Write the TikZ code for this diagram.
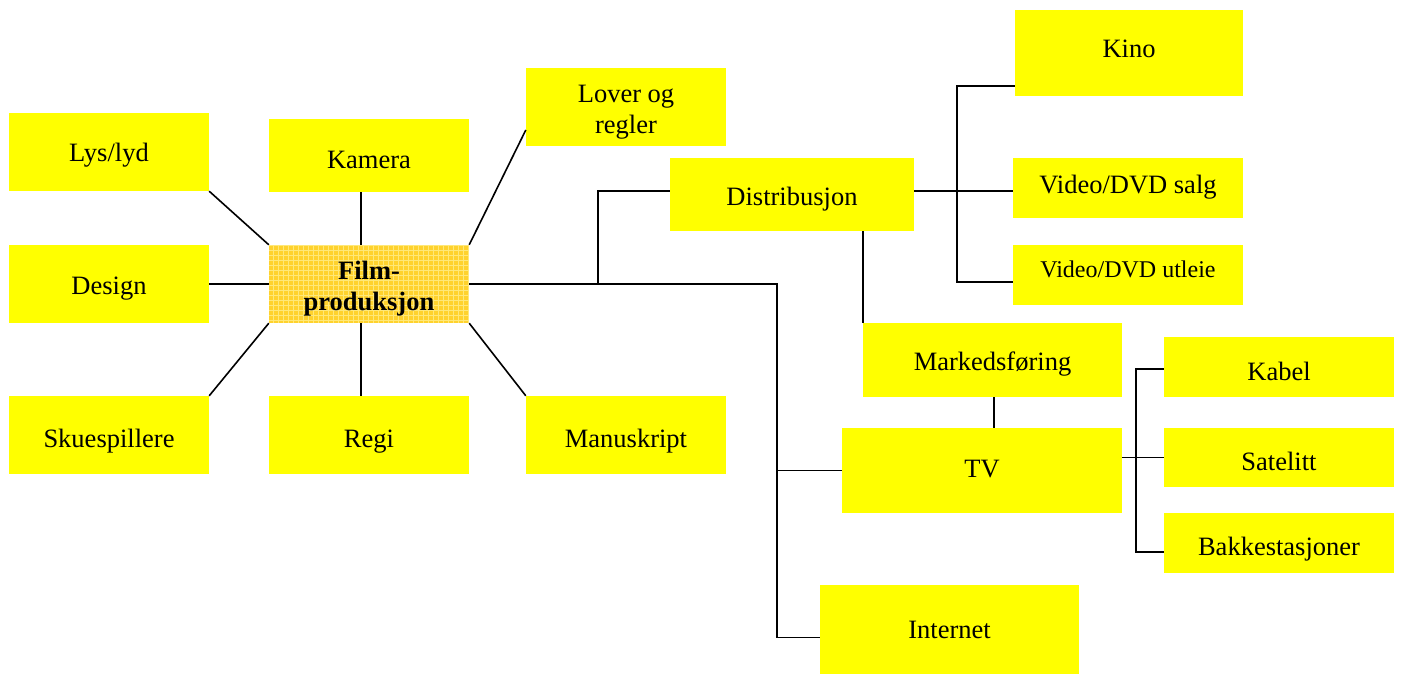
\documentclass[tikz,border=0pt]{standalone}
\usepackage{fontspec}
\setmainfont{Liberation Serif}
\usetikzlibrary{calc}
\definecolor{boxyellow}{RGB}{255,255,0}
\definecolor{centerfill}{RGB}{255,210,45}
\definecolor{centergrid}{RGB}{255,232,120}
\begin{document}
\begin{tikzpicture}[x=1pt,y=-1pt,
  box/.style={fill=boxyellow, draw=none, inner sep=0pt, align=center,
    font=\fontsize{26.5}{31}\selectfont},
  bl/.style={text depth=6pt, text height={6pt+2*#1pt}},
  centerbox/.style={box, fill=centerfill,
    font=\fontsize{26.5}{31}\selectfont\bfseries,
    path picture={\draw[centergrid, line width=0.7pt, step=5pt]
      (path picture bounding box.south west) grid (path picture bounding box.north east);}},
  link/.style={draw=black, line width=1.6pt}]
\useasboundingbox (0,0) rectangle (1402,675);

% nodes
\node[box, bl=9, minimum width=200pt, minimum height=78pt] (lys) at (109,152) {Lys/lyd};
\node[box, bl=10, minimum width=200pt, minimum height=78pt] (design) at (109,284) {Design};
\node[box, bl=12, minimum width=200pt, minimum height=78pt] (skue) at (109,435) {Skuespillere};
\node[centerbox, minimum width=200pt, minimum height=78pt] (film) at (369,284) {\rule{0pt}{27pt}Film-\\produksjon};
\node[box, bl=12.5, minimum width=200pt, minimum height=73pt] (kamera) at (369,155.5) {Kamera};
\node[box, bl=12, minimum width=200pt, minimum height=78pt] (regi) at (369,435) {Regi};
\node[box, minimum width=200pt, minimum height=78pt] (lover) at (626,107) {\rule{0pt}{27pt}Lover og\\regler};
\node[box, bl=12, minimum width=200pt, minimum height=78pt] (manus) at (626,435) {Manuskript};
\node[box, bl=10.5, minimum width=244pt, minimum height=73pt] (distr) at (792,194.5) {Distribusjon};
\node[box, bl=4, minimum width=228pt, minimum height=86pt] (kino) at (1129,53) {Kino};
\node[box, bl=5, minimum width=230pt, minimum height=60pt] (salg) at (1128,188) {Video/DVD salg};
\node[box, bl=2, minimum width=230pt, minimum height=60pt, font=\fontsize{24}{28}\selectfont] (utleie) at (1128,275) {Video/DVD utleie};
\node[box, bl=10, minimum width=259pt, minimum height=74pt] (marked) at (992.5,360) {Markedsføring};
\node[box, bl=6.5, minimum width=280pt, minimum height=85pt] (tv) at (982,470.5) {TV};
\node[box, bl=8.5, minimum width=259pt, minimum height=89pt] (internet) at (949.5,629.5) {Internet};
\node[box, bl=13, minimum width=230pt, minimum height=60pt] (kabel) at (1279,367) {Kabel};
\node[box, bl=12.5, minimum width=230pt, minimum height=59pt] (satelitt) at (1279,457.5) {Satelitt};
\node[box, bl=12, minimum width=230pt, minimum height=60pt] (bakke) at (1279,543) {Bakkestasjoner};

% junctions
\coordinate (j1) at (598,284);
\coordinate (j2) at (777,284);
\coordinate (j3) at (957,191);
\coordinate (j4) at (1136,457);

% star connectors
\draw[link] (lys.south east) -- (film.north west);
\draw[link] (design.east) -- (film.west);
\draw[link] (skue.north east) -- (film.south west);
\draw[link] ([xshift=-8pt]kamera.south) -- ([xshift=-8pt]film.north);
\draw[link] ([xshift=-8pt]regi.north) -- ([xshift=-8pt]film.south);
\draw[link] (film.north east) -- ([yshift=-23pt]lover.west);
\draw[link] (film.south east) -- (manus.north west);

% distribution tree
\draw[link] (film.east) -- (j2) |- ([yshift=-8pt]internet.west);
\draw[link] (j2 |- tv.west) -- (tv.west);
\draw[link] (j1) |- ([yshift=3.5pt]distr.west);
\draw[link] (marked.north west |- distr.south) -- (marked.north west);
\draw[link] ([yshift=3.5pt]distr.east) -- ([yshift=3.5pt]distr.east -| salg.west);
\draw[link] ([yshift=-33pt]kino.west) -| (j3) |- ([yshift=-7pt]utleie.west);
\draw[link] ([xshift=1.5pt]marked.south) -- ([xshift=1.5pt]marked.south |- tv.north);
\draw[link] (satelitt.west -| tv.east) -- (satelitt.west);
\draw[link] ([yshift=-2pt]kabel.west) -| (j4) |- ([yshift=-9pt]bakke.west);
\end{tikzpicture}
\end{document}
